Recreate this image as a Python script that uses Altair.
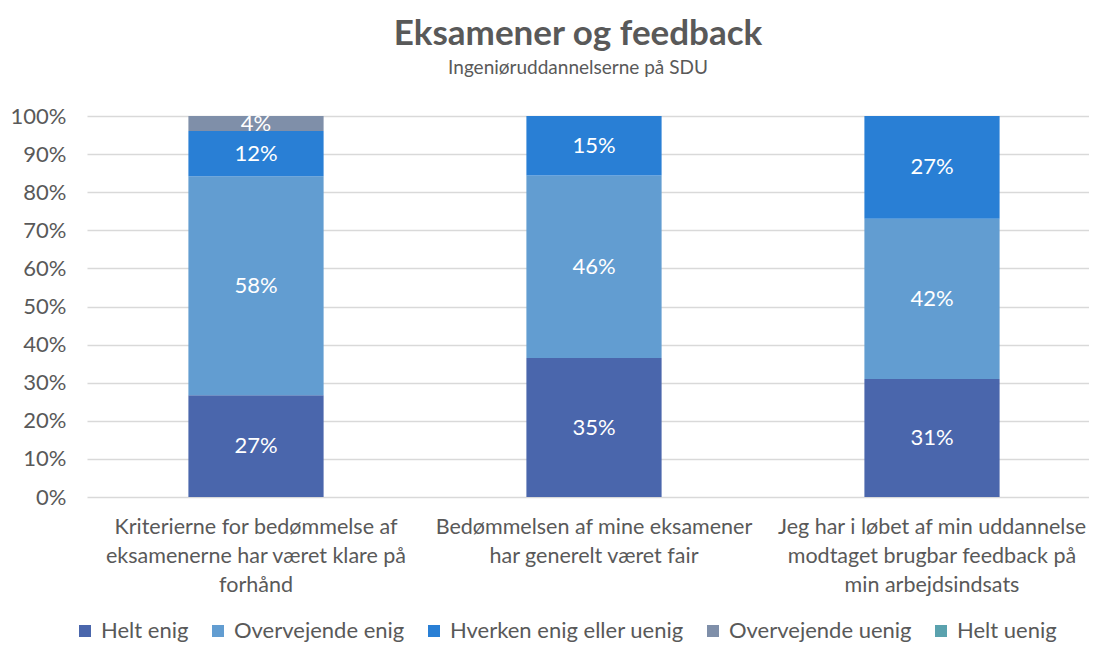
import altair as alt
import pandas as pd

categories = [
    "Kriterierne for bedømmelse af eksamenerne har været klare på forhånd",
    "Bedømmelsen af mine eksamener har generelt været fair",
    "Jeg har i løbet af min uddannelse modtaget brugbar feedback på min arbejdsindsats",
]
category_lines = [
    ["Kriterierne for bedømmelse af", "eksamenerne har været klare på", "forhånd"],
    ["Bedømmelsen af mine eksamener", "har generelt været fair"],
    ["Jeg har i løbet af min uddannelse", "modtaget brugbar feedback på", "min arbejdsindsats"],
]
series = ["Helt enig", "Overvejende enig", "Hverken enig eller uenig", "Overvejende uenig", "Helt uenig"]
colors = ["#4A66AC", "#629DD1", "#297FD5", "#7F8FA9", "#5AA2AE"]

helt_enig = [27, 35, 31]
overvejende_enig = [58, 46, 42]
hverken = [12, 15, 27]
overvejende_uenig = [4, 0, 0]
helt_uenig = [0, 0, 0]

values = [helt_enig, overvejende_enig, hverken, overvejende_uenig, helt_uenig]

rows = []
for si, s in enumerate(series):
    for ci, c in enumerate(categories):
        rows.append({"cat": c, "serie": s, "order": si, "value": values[si][ci]})
df = pd.DataFrame(rows)

FONT = "Lato"
GREY = "#595959"
FS = 22

label_map = "{" + ",".join(
    "'" + c.replace("'", "\\'") + "':[" + ",".join("'" + l + "'" for l in lines) + "]"
    for c, lines in zip(categories, category_lines)
) + "}"

x_axis = alt.Axis(
    labelAngle=0,
    labelExpr=label_map + "[datum.label]",
    labelFont=FONT,
    labelFontSize=21.5,
    labelColor=GREY,
    labelLineHeight=29,
    labelPadding=19,
    ticks=False,
    domain=False,
    labelLimit=400,
)
x_scale = alt.Scale(paddingInner=0.6, paddingOuter=0.3, range=[0, 1014])

y_axis = alt.Axis(
    format=".0%",
    values=[i / 10 for i in range(11)],
    labelOverlap=False,
    labelFont=FONT,
    labelFontSize=FS,
    labelColor=GREY,
    labelPadding=21,
    ticks=False,
    domain=False,
    gridColor="#D9D9D9",
    gridWidth=1.3,
)

base = alt.Chart(df)

bars = base.mark_bar().encode(
    x=alt.X("cat:N", sort=categories, title=None, scale=x_scale, axis=x_axis),
    y=alt.Y("value:Q", stack="normalize", title=None, axis=y_axis),
    color=alt.Color(
        "serie:N",
        scale=alt.Scale(domain=series, range=colors),
        legend=alt.Legend(
            title=None,
            orient="none",
            direction="horizontal",
            legendX=-13,
            legendY=504,
            symbolType="square",
            symbolSize=144,
            symbolStrokeWidth=0,
            symbolOpacity=1,
            labelFont=FONT,
            labelFontSize=FS,
            labelColor=GREY,
            labelOffset=5,
            columnPadding=18,
            labelLimit=400,
        ),
    ),
    order=alt.Order("order:Q", sort="ascending"),
)

labels = (
    base.transform_joinaggregate(total="sum(value)", groupby=["cat"])
    .transform_window(cum="sum(value)", sort=[alt.SortField("order")], groupby=["cat"])
    .transform_calculate(mid="(datum.cum - datum.value / 2) / datum.total", txt="datum.value + '%'")
    .transform_filter("datum.value > 0")
    .mark_text(font=FONT, fontSize=FS, color="white", baseline="middle")
    .encode(
        x=alt.X("cat:N", sort=categories, title=None, scale=x_scale, axis=x_axis),
        y=alt.Y("mid:Q", scale=alt.Scale(domain=[0, 1]), title=None, axis=y_axis),
        text="txt:N",
    )
)

chart = (
    alt.layer(bars, labels)
    .properties(
        width=1002,
        height=381,
        autosize=alt.AutoSizeParams(type="none"),
        padding={"left": 79, "top": 108, "right": 0, "bottom": 146},
        title=alt.TitleParams(
            "Eksamener og feedback",
            subtitle="Ingeniøruddannelserne på SDU",
            font=FONT,
            fontSize=35,
            fontWeight="bold",
            color=GREY,
            subtitleFont=FONT,
            subtitleFontSize=19,
            subtitleColor=GREY,
            subtitlePadding=7,
            anchor="middle",
            frame="group",
            dx=-10,
            offset=27,
        ),
    )
    .configure_view(stroke=None)
)

chart.save("out.html", embed_options={"renderer": "svg", "actions": False})
